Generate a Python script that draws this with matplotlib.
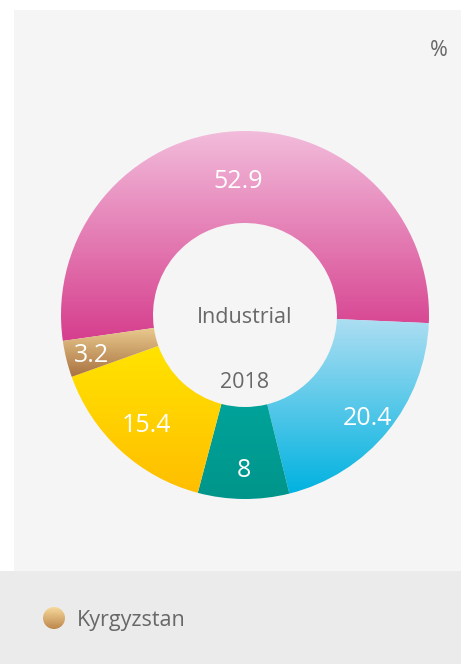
import numpy as np
import matplotlib
matplotlib.use("Agg")
import matplotlib.pyplot as plt
from matplotlib.patches import Rectangle, Circle
from matplotlib.colors import LinearSegmentedColormap

plt.rcParams['font.family'] = ['Open Sans', 'DejaVu Sans']

# data, clockwise from the top
values = [52.9, 20.4, 8, 15.4, 3.2]
labels = ['52.9', '20.4', '8', '15.4', '3.2']
tops = ['#f2bcdb', '#addef2', '#00a39a', '#ffe300', '#e9c98e']
bottoms = ['#d63e8d', '#00b2e0', '#00958b', '#ffbe00', '#a97240']
center_title = 'Industrial'
center_year = '2018'
legend_name = 'Kyrgyzstan'

W, H = 461, 664
fig = plt.figure(figsize=(W / 100, H / 100), dpi=100)
ax = fig.add_axes([0, 0, 1, 1])
ax.axis('off')


def py(y):
    # pixel y (from top) -> data y
    return H - y


def vgrad(patch, top, bottom):
    bb = patch.get_path().transformed(patch.get_patch_transform()).get_extents()
    cmap = LinearSegmentedColormap.from_list('g', [top, bottom])
    grad = np.linspace(0, 1, 256).reshape(-1, 1)
    im = ax.imshow(grad, cmap=cmap, aspect='auto', interpolation='bilinear',
                   extent=(bb.x0, bb.x1, bb.y0, bb.y1), zorder=patch.get_zorder())
    im.set_clip_path(patch)


# backgrounds
ax.add_patch(Rectangle((14, py(571)), W - 14, 561, facecolor='#f5f5f5', edgecolor='none', zorder=0))
ax.add_patch(Rectangle((0, 0), W, H - 571, facecolor='#ebebeb', edgecolor='none', zorder=0))

cx, cy, r_out, r_in = 245, py(315), 184, 92
wedges, _ = ax.pie(values, startangle=188.1, counterclock=False, radius=r_out,
                   center=(cx, cy), frame=False,
                   wedgeprops=dict(width=r_out - r_in, edgecolor='none', linewidth=0))
for w, t, b in zip(wedges, tops, bottoms):
    w.set_zorder(2)
    w.set_facecolor('none')
    vgrad(w, t, b)

# value labels
lab_r = [137, 158, 153, 146, 158]
for w, lab, rr in zip(wedges, labels, lab_r):
    ang = np.deg2rad((w.theta1 + w.theta2) / 2)
    ax.text(cx + rr * np.cos(ang), cy + rr * np.sin(ang), lab, color='white',
            fontsize=18, ha='center', va='center_baseline', zorder=5)

ax.text(cx, py(315), center_title, color='#686868', fontsize=15.5, ha='center', va='center_baseline', zorder=5)
ax.text(cx, py(380), center_year, color='#686868', fontsize=15.5, ha='center', va='center_baseline', zorder=5)
ax.text(439, py(48), '%', color='#686868', fontsize=15.5, ha='center', va='center_baseline', zorder=5)

# legend
dot = Circle((54, py(618)), 11, facecolor='none', edgecolor='none', zorder=3)
ax.add_patch(dot)
vgrad(dot, '#f7d99c', '#bd864a')
ax.text(77, py(618), legend_name, color='#686868', fontsize=15.5, ha='left', va='center_baseline', zorder=5)

ax.set_xlim(0, W)
ax.set_ylim(0, H)
ax.set_aspect('auto')
fig.savefig('out.png', dpi=100, facecolor='white')
